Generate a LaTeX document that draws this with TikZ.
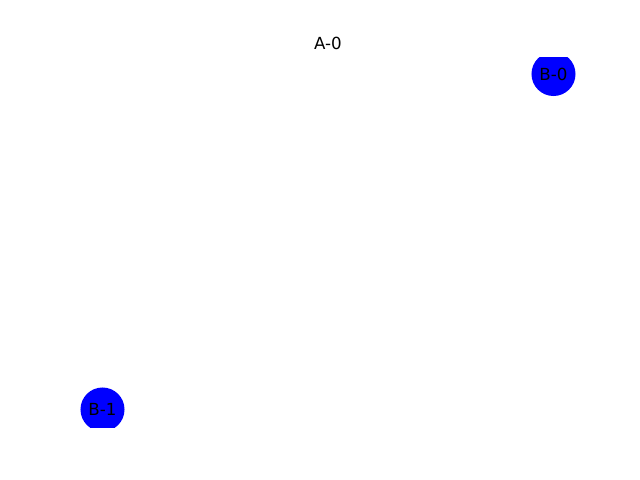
\documentclass[tikz,border=0pt]{standalone}
\usepackage{fontspec}
\setmainfont{DejaVu Sans}
\begin{document}
\begin{tikzpicture}[x=0.72pt,y=-0.72pt]
\tikzstyle{every node}=[font=\fontsize{12}{14}\selectfont]
\tikzstyle{bnode}=[circle, fill=blue, inner sep=0pt, minimum size=31.7pt]
	\useasboundingbox (0,0) rectangle (640,480);
	\node (title) at (328,43) {A-0};
	\begin{scope}
	\clip (80,57.6) rectangle (576,427.2);
	\node[bnode] (b0) at (553.5,74) {B-0};
	\node[bnode] (b1) at (102.5,409.5) {B-1};
	\end{scope}
\end{tikzpicture}
\end{document}
